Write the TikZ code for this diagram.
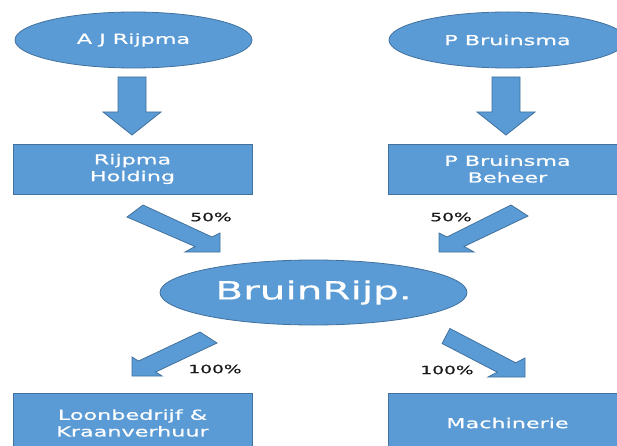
\documentclass[tikz,border=0pt]{standalone}
\usepackage{fontspec}
\setmainfont{DejaVu Sans}[FakeStretch=1.62, FakeBold=0.6]
\usetikzlibrary{shapes.geometric}
\definecolor{boxblue}{HTML}{5B9BD5}
\definecolor{edgeblue}{HTML}{41719C}
\tikzset{
  ell/.style={ellipse, draw=edgeblue, fill=boxblue, line width=0.8pt, text=white, inner sep=0pt},
  box/.style={rectangle, draw=edgeblue, fill=boxblue, line width=0.8pt, text=white, align=center, inner sep=0pt,
              minimum width=239pt, font=\fontsize{13.75}{16.7}\selectfont},
  blockarrow/.style={draw=edgeblue, fill=boxblue, line width=0.8pt, line join=miter},
  pct/.style={text=black!90, inner sep=0pt, font=\fontsize{11.5}{13}\selectfont}
}
\begin{document}
\begin{tikzpicture}[x=1pt,y=-1pt]
  \clip (0,0) rectangle (617,446);
  \fill[white] (0,0) rectangle (617,446);
  % owners
  \node[ell, minimum width=237pt, minimum height=56pt, font=\fontsize{13.75}{16.7}\selectfont] (aj) at (133.5,40) {A J Rijpma};
  \node[ell, minimum width=237pt, minimum height=56pt, font=\fontsize{13.75}{16.7}\selectfont] (pb) at (507.5,40) {P Bruinsma};
  % down arrows
  \draw[blockarrow] (118,77) -- (146,77) -- (146,112) -- (161,112) -- (132,135) -- (103,112) -- (118,112) -- cycle;
  \draw[blockarrow] (492,77) -- (520,77) -- (520,112) -- (535,112) -- (506,135) -- (477,112) -- (492,112) -- cycle;
  % holdings
  \node[box, minimum height=50pt] (rh) at (132.5,169) {Rijpma\\Holding};
  \node[box, minimum height=50pt] (pbb) at (507.5,169) {P Bruinsma\\Beheer};
  % diagonal arrows to BruinRijp
  \draw[blockarrow] (143,205) -- (212,237) -- (220,233) -- (220,252) -- (185,252) -- (195,246.5) -- (127,217) -- cycle;
  \draw[blockarrow] (511,205) -- (447,237) -- (439,233) -- (439,252) -- (474,252) -- (464,246.5) -- (528,216) -- cycle;
  \node[pct] (l1) at (211,217) {50\%};
  \node[pct] (l2) at (451,217) {50\%};
  % central company
  \node[ell, minimum width=307pt, minimum height=65pt, font=\fontsize{25}{30}\selectfont] (br) at (313.5,292.5) {BruinRijp.};
  % diagonal arrows to subsidiaries
  \draw[blockarrow] (200,332) -- (138.5,361) -- (132,357) -- (132,376) -- (162,376) -- (155.6,372) -- (217,343) -- cycle;
  \draw[blockarrow] (449.9,328.5) -- (515.7,362.8) -- (525,358) -- (525,377) -- (488,377) -- (497.3,372.2) -- (442.1,343.5) -- cycle;
  \node[pct] (l3) at (215,369) {100\%};
  \node[pct] (l4) at (447,370) {100\%};
  % subsidiaries
  \node[box, minimum height=60pt] (lk) at (132.5,423) {Loonbedrijf \&\\Kraanverhuur};
  \node[box, minimum height=60pt] (mach) at (507.5,423) {Machinerie};
\end{tikzpicture}
\end{document}
